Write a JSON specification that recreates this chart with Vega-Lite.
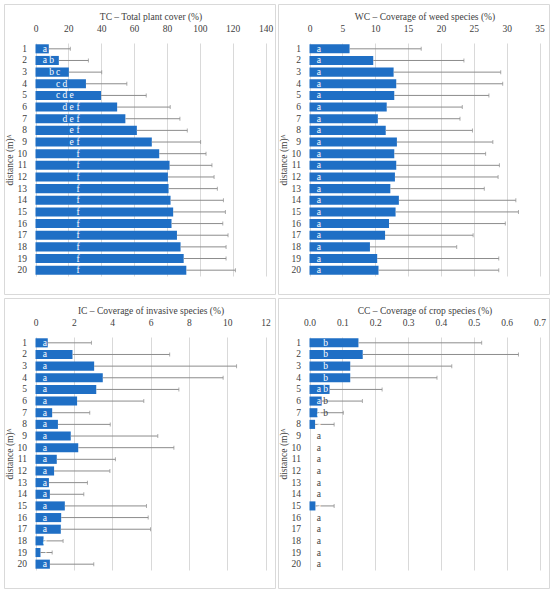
{
  "$schema": "https://vega.github.io/schema/vega-lite/v6.json",
  "padding": {"left": 3, "top": 3, "right": 0, "bottom": 0},
  "autosize": {"type": "pad"},
  "background": "white",
  "data": {"values": [
    {"panel": "TC", "d": 1, "mean": 8.1, "hi": 21.2, "letters": ["a"]},
    {"panel": "TC", "d": 2, "mean": 14.2, "hi": 32.2, "letters": ["a", "b"]},
    {"panel": "TC", "d": 3, "mean": 20.3, "hi": 40.3, "letters": ["b", "c"]},
    {"panel": "TC", "d": 4, "mean": 30.7, "hi": 55.6, "letters": ["c", "d"]},
    {"panel": "TC", "d": 5, "mean": 39.9, "hi": 67.4, "letters": ["c", "d", "e"]},
    {"panel": "TC", "d": 6, "mean": 49.7, "hi": 82.0, "letters": ["d", "e", "f"]},
    {"panel": "TC", "d": 7, "mean": 54.7, "hi": 87.9, "letters": ["d", "e", "f"]},
    {"panel": "TC", "d": 8, "mean": 61.7, "hi": 92.4, "letters": ["e", "f"]},
    {"panel": "TC", "d": 9, "mean": 70.8, "hi": 100.5, "letters": ["e", "f"]},
    {"panel": "TC", "d": 10, "mean": 75.3, "hi": 103.8, "letters": ["f"]},
    {"panel": "TC", "d": 11, "mean": 81.6, "hi": 107.4, "letters": ["f"]},
    {"panel": "TC", "d": 12, "mean": 80.6, "hi": 108.7, "letters": ["f"]},
    {"panel": "TC", "d": 13, "mean": 81.0, "hi": 110.7, "letters": ["f"]},
    {"panel": "TC", "d": 14, "mean": 82.2, "hi": 114.4, "letters": ["f"]},
    {"panel": "TC", "d": 15, "mean": 83.8, "hi": 115.6, "letters": ["f"]},
    {"panel": "TC", "d": 16, "mean": 82.8, "hi": 114.0, "letters": ["f"]},
    {"panel": "TC", "d": 17, "mean": 86.1, "hi": 117.2, "letters": ["f"]},
    {"panel": "TC", "d": 18, "mean": 88.3, "hi": 116.0, "letters": ["f"]},
    {"panel": "TC", "d": 19, "mean": 90.2, "hi": 116.0, "letters": ["f"]},
    {"panel": "TC", "d": 20, "mean": 91.8, "hi": 121.7, "letters": ["f"]},

    {"panel": "WC", "d": 1, "mean": 6.1, "hi": 17.0, "letters": ["a"]},
    {"panel": "WC", "d": 2, "mean": 9.7, "hi": 23.5, "letters": ["a"]},
    {"panel": "WC", "d": 3, "mean": 12.8, "hi": 29.1, "letters": ["a"]},
    {"panel": "WC", "d": 4, "mean": 13.2, "hi": 29.4, "letters": ["a"]},
    {"panel": "WC", "d": 5, "mean": 12.9, "hi": 27.3, "letters": ["a"]},
    {"panel": "WC", "d": 6, "mean": 11.75, "hi": 23.25, "letters": ["a"]},
    {"panel": "WC", "d": 7, "mean": 10.4, "hi": 22.9, "letters": ["a"]},
    {"panel": "WC", "d": 8, "mean": 11.6, "hi": 24.8, "letters": ["a"]},
    {"panel": "WC", "d": 9, "mean": 13.3, "hi": 27.9, "letters": ["a"]},
    {"panel": "WC", "d": 10, "mean": 12.9, "hi": 26.8, "letters": ["a"]},
    {"panel": "WC", "d": 11, "mean": 13.2, "hi": 28.9, "letters": ["a"]},
    {"panel": "WC", "d": 12, "mean": 13.0, "hi": 28.7, "letters": ["a"]},
    {"panel": "WC", "d": 13, "mean": 12.3, "hi": 26.6, "letters": ["a"]},
    {"panel": "WC", "d": 14, "mean": 13.6, "hi": 31.4, "letters": ["a"]},
    {"panel": "WC", "d": 15, "mean": 13.1, "hi": 31.8, "letters": ["a"]},
    {"panel": "WC", "d": 16, "mean": 12.1, "hi": 29.8, "letters": ["a"]},
    {"panel": "WC", "d": 17, "mean": 11.5, "hi": 24.9, "letters": ["a"]},
    {"panel": "WC", "d": 18, "mean": 9.2, "hi": 22.4, "letters": ["a"]},
    {"panel": "WC", "d": 19, "mean": 10.3, "hi": 28.8, "letters": ["a"]},
    {"panel": "WC", "d": 20, "mean": 10.5, "hi": 28.8, "letters": ["a"]},

    {"panel": "IC", "d": 1, "mean": 0.64, "hi": 2.92, "letters": ["a"]},
    {"panel": "IC", "d": 2, "mean": 1.93, "hi": 7.0, "letters": ["a"]},
    {"panel": "IC", "d": 3, "mean": 3.06, "hi": 10.49, "letters": ["a"]},
    {"panel": "IC", "d": 4, "mean": 3.51, "hi": 9.79, "letters": ["a"]},
    {"panel": "IC", "d": 5, "mean": 3.17, "hi": 7.48, "letters": ["a"]},
    {"panel": "IC", "d": 6, "mean": 2.17, "hi": 5.65, "letters": ["a"]},
    {"panel": "IC", "d": 7, "mean": 0.87, "hi": 2.83, "letters": ["a"]},
    {"panel": "IC", "d": 8, "mean": 1.17, "hi": 3.9, "letters": ["a"]},
    {"panel": "IC", "d": 9, "mean": 1.84, "hi": 6.38, "letters": ["a"]},
    {"panel": "IC", "d": 10, "mean": 2.23, "hi": 7.22, "letters": ["a"]},
    {"panel": "IC", "d": 11, "mean": 1.11, "hi": 4.17, "letters": ["a"]},
    {"panel": "IC", "d": 12, "mean": 0.97, "hi": 3.88, "letters": ["a"]},
    {"panel": "IC", "d": 13, "mean": 0.7, "hi": 2.71, "letters": ["a"]},
    {"panel": "IC", "d": 14, "mean": 0.75, "hi": 2.52, "letters": ["a"]},
    {"panel": "IC", "d": 15, "mean": 1.53, "hi": 5.79, "letters": ["a"]},
    {"panel": "IC", "d": 16, "mean": 1.34, "hi": 5.88, "letters": ["a"]},
    {"panel": "IC", "d": 17, "mean": 1.32, "hi": 6.0, "letters": ["a"]},
    {"panel": "IC", "d": 18, "mean": 0.42, "hi": 1.44, "letters": ["a"]},
    {"panel": "IC", "d": 19, "mean": 0.26, "hi": 0.87, "letters": ["a"]},
    {"panel": "IC", "d": 20, "mean": 0.75, "hi": 3.04, "letters": ["a"]},

    {"panel": "CC", "d": 1, "mean": 0.149, "hi": 0.524, "letters": ["b"]},
    {"panel": "CC", "d": 2, "mean": 0.162, "hi": 0.636, "letters": ["b"]},
    {"panel": "CC", "d": 3, "mean": 0.124, "hi": 0.433, "letters": ["b"]},
    {"panel": "CC", "d": 4, "mean": 0.124, "hi": 0.388, "letters": ["b"]},
    {"panel": "CC", "d": 5, "mean": 0.061, "hi": 0.221, "letters": ["a", "b"]},
    {"panel": "CC", "d": 6, "mean": 0.037, "hi": 0.161, "letters": ["a", "b"]},
    {"panel": "CC", "d": 7, "mean": 0.024, "hi": 0.103, "letters": ["a", "b"]},
    {"panel": "CC", "d": 8, "mean": 0.017, "hi": 0.075, "letters": ["a"]},
    {"panel": "CC", "d": 9, "mean": 0, "hi": null, "letters": ["a"]},
    {"panel": "CC", "d": 10, "mean": 0, "hi": null, "letters": ["a"]},
    {"panel": "CC", "d": 11, "mean": 0, "hi": null, "letters": ["a"]},
    {"panel": "CC", "d": 12, "mean": 0, "hi": null, "letters": ["a"]},
    {"panel": "CC", "d": 13, "mean": 0, "hi": null, "letters": ["a"]},
    {"panel": "CC", "d": 14, "mean": 0, "hi": null, "letters": ["a"]},
    {"panel": "CC", "d": 15, "mean": 0.018, "hi": 0.075, "letters": ["a"]},
    {"panel": "CC", "d": 16, "mean": 0, "hi": null, "letters": ["a"]},
    {"panel": "CC", "d": 17, "mean": 0, "hi": null, "letters": ["a"]},
    {"panel": "CC", "d": 18, "mean": 0, "hi": null, "letters": ["a"]},
    {"panel": "CC", "d": 19, "mean": 0, "hi": null, "letters": ["a"]},
    {"panel": "CC", "d": 20, "mean": 0, "hi": null, "letters": ["a"]}
  ]},
  "columns": 2,
  "spacing": {"row": 2, "column": 1},
  "concat": [
    {
      "width": 271, "height": 290,
      "transform": [{"filter": "datum.panel == 'TC'"}],
      "layer": [
        {"layer": [
          {"mark": {"type": "bar", "color": "#1f6fc5"},
           "encoding": {
             "x": {"field": "mean", "type": "quantitative",
                   "scale": {"domain": [0, 140], "range": [31.5, 261.5], "nice": false},
                   "axis": {"orient": "top", "offset": -39, "values": [0, 20, 40, 60, 80, 100, 120, 140], "tickCount": 50, "format": "d", "title": "TC – Total plant cover (%)", "labelPadding": 10, "titlePadding": 2}},
             "y": {"field": "d", "type": "ordinal",
                   "scale": {"range": [39, 272], "paddingInner": 0.22},
                   "axis": {"offset": -31.5, "title": "distance (m)ᴬ", "labelPadding": 9, "titlePadding": 3}}
           }},
          {"transform": [{"filter": "datum.hi != null"}],
           "mark": {"type": "rule", "color": "#8c8c8c"},
           "encoding": {"x": {"field": "mean", "type": "quantitative"}, "x2": {"field": "hi"}, "y": {"field": "d", "type": "ordinal"}}},
          {"transform": [{"filter": "datum.hi != null"}],
           "mark": {"type": "tick", "color": "#8c8c8c", "thickness": 1, "size": 4},
           "encoding": {"x": {"field": "hi", "type": "quantitative"}, "y": {"field": "d", "type": "ordinal"}}}
        ]},
        {"transform": [{"flatten": ["letters"], "as": ["letter"]}],
         "mark": {"type": "text", "baseline": "middle", "align": "center"},
         "encoding": {
           "x": {"field": "letter", "type": "ordinal", "scale": {"type": "point", "domain": ["a", "b", "c", "d", "e", "f"], "range": [37.5, 77.5]}, "axis": null},
           "y": {"field": "d", "type": "ordinal"},
           "text": {"field": "letter"},
           "color": {"value": "white"}
         }}
      ],
      "resolve": {"scale": {"x": "independent"}}
    },
    {
      "width": 271, "height": 290,
      "transform": [{"filter": "datum.panel == 'WC'"}],
      "layer": [
        {"layer": [
          {"mark": {"type": "bar", "color": "#1f6fc5"},
           "encoding": {
             "x": {"field": "mean", "type": "quantitative",
                   "scale": {"domain": [0, 35], "range": [31.5, 261.5], "nice": false},
                   "axis": {"orient": "top", "offset": -39, "values": [0, 5, 10, 15, 20, 25, 30, 35], "tickCount": 50, "format": "d", "title": "WC – Coverage of weed species (%)", "labelPadding": 10, "titlePadding": 2}},
             "y": {"field": "d", "type": "ordinal",
                   "scale": {"range": [39, 272], "paddingInner": 0.22},
                   "axis": {"offset": -31.5, "title": "distance (m)ᴬ", "labelPadding": 9, "titlePadding": 3}}
           }},
          {"transform": [{"filter": "datum.hi != null"}],
           "mark": {"type": "rule", "color": "#8c8c8c"},
           "encoding": {"x": {"field": "mean", "type": "quantitative"}, "x2": {"field": "hi"}, "y": {"field": "d", "type": "ordinal"}}},
          {"transform": [{"filter": "datum.hi != null"}],
           "mark": {"type": "tick", "color": "#8c8c8c", "thickness": 1, "size": 4},
           "encoding": {"x": {"field": "hi", "type": "quantitative"}, "y": {"field": "d", "type": "ordinal"}}}
        ]},
        {"transform": [{"flatten": ["letters"], "as": ["letter"]}],
         "mark": {"type": "text", "baseline": "middle", "align": "center"},
         "encoding": {
           "x": {"field": "letter", "type": "ordinal", "scale": {"type": "point", "domain": ["a", "b", "c", "d", "e", "f"], "range": [37.5, 77.5]}, "axis": null},
           "y": {"field": "d", "type": "ordinal"},
           "text": {"field": "letter"},
           "color": {"value": "white"}
         }}
      ],
      "resolve": {"scale": {"x": "independent"}}
    },
    {
      "width": 271, "height": 290,
      "transform": [{"filter": "datum.panel == 'IC'"}],
      "layer": [
        {"layer": [
          {"mark": {"type": "bar", "color": "#1f6fc5"},
           "encoding": {
             "x": {"field": "mean", "type": "quantitative",
                   "scale": {"domain": [0, 12], "range": [31.5, 261.5], "nice": false},
                   "axis": {"orient": "top", "offset": -39, "values": [0, 2, 4, 6, 8, 10, 12], "tickCount": 50, "format": "d", "title": "IC – Coverage of invasive species (%)", "labelPadding": 10, "titlePadding": 2}},
             "y": {"field": "d", "type": "ordinal",
                   "scale": {"range": [39, 272], "paddingInner": 0.22},
                   "axis": {"offset": -31.5, "title": "distance (m)ᴬ", "labelPadding": 9, "titlePadding": 3}}
           }},
          {"transform": [{"filter": "datum.hi != null"}],
           "mark": {"type": "rule", "color": "#8c8c8c"},
           "encoding": {"x": {"field": "mean", "type": "quantitative"}, "x2": {"field": "hi"}, "y": {"field": "d", "type": "ordinal"}}},
          {"transform": [{"filter": "datum.hi != null"}],
           "mark": {"type": "tick", "color": "#8c8c8c", "thickness": 1, "size": 4},
           "encoding": {"x": {"field": "hi", "type": "quantitative"}, "y": {"field": "d", "type": "ordinal"}}}
        ]},
        {"transform": [{"flatten": ["letters"], "as": ["letter"]}],
         "mark": {"type": "text", "baseline": "middle", "align": "center"},
         "encoding": {
           "x": {"field": "letter", "type": "ordinal", "scale": {"type": "point", "domain": ["a", "b", "c", "d", "e", "f"], "range": [37.5, 77.5]}, "axis": null},
           "y": {"field": "d", "type": "ordinal"},
           "text": {"field": "letter"},
           "color": {"value": "white"}
         }}
      ],
      "resolve": {"scale": {"x": "independent"}}
    },
    {
      "width": 271, "height": 290,
      "transform": [{"filter": "datum.panel == 'CC'"}],
      "layer": [
        {"layer": [
          {"mark": {"type": "bar", "color": "#1f6fc5"},
           "encoding": {
             "x": {"field": "mean", "type": "quantitative",
                   "scale": {"domain": [0, 0.7], "range": [31.5, 261.5], "nice": false},
                   "axis": {"orient": "top", "offset": -39, "values": [0, 0.1, 0.2, 0.3, 0.4, 0.5, 0.6, 0.7], "tickCount": 50, "format": ".1f", "title": "CC – Coverage of crop species (%)", "labelPadding": 10, "titlePadding": 2}},
             "y": {"field": "d", "type": "ordinal",
                   "scale": {"range": [39, 272], "paddingInner": 0.22},
                   "axis": {"offset": -31.5, "title": "distance (m)ᴬ", "labelPadding": 9, "titlePadding": 3}}
           }},
          {"transform": [{"filter": "datum.hi != null"}],
           "mark": {"type": "rule", "color": "#8c8c8c"},
           "encoding": {"x": {"field": "mean", "type": "quantitative"}, "x2": {"field": "hi"}, "y": {"field": "d", "type": "ordinal"}}},
          {"transform": [{"filter": "datum.hi != null"}],
           "mark": {"type": "tick", "color": "#8c8c8c", "thickness": 1, "size": 4},
           "encoding": {"x": {"field": "hi", "type": "quantitative"}, "y": {"field": "d", "type": "ordinal"}}}
        ]},
        {"transform": [{"flatten": ["letters"], "as": ["letter"]}],
         "mark": {"type": "text", "baseline": "middle", "align": "center"},
         "encoding": {
           "x": {"field": "letter", "type": "ordinal", "scale": {"type": "point", "domain": ["a", "b", "c", "d", "e", "f"], "range": [37.5, 77.5]}, "axis": null},
           "y": {"field": "d", "type": "ordinal"},
           "text": {"field": "letter"},
           "color": {"condition": {"test": "(datum.letter == 'a' && datum.mean >= 0.016) || (datum.letter == 'b' && datum.mean > 0.045)", "value": "white"}, "value": "#404040"}
         }}
      ],
      "resolve": {"scale": {"x": "independent"}}
    }
  ],
  "config": {
    "font": "Liberation Serif",
    "text": {"font": "Liberation Serif", "fontSize": 9.5},
    "view": {"stroke": "#d9d9d9", "strokeWidth": 1},
    "axis": {
      "labelFont": "Liberation Serif", "labelFontSize": 9.5, "labelColor": "#404040",
      "titleFont": "Liberation Serif", "titleFontSize": 9.5, "titleFontWeight": "normal", "titleColor": "#404040",
      "domain": false, "ticks": false, "tickSize": 0,
      "labelOverlap": false, "labelFlush": false,
      "gridColor": "#d9d9d9", "gridWidth": 1
    },
    "axisY": {"grid": false},
    "axisX": {"grid": true}
  }
}
